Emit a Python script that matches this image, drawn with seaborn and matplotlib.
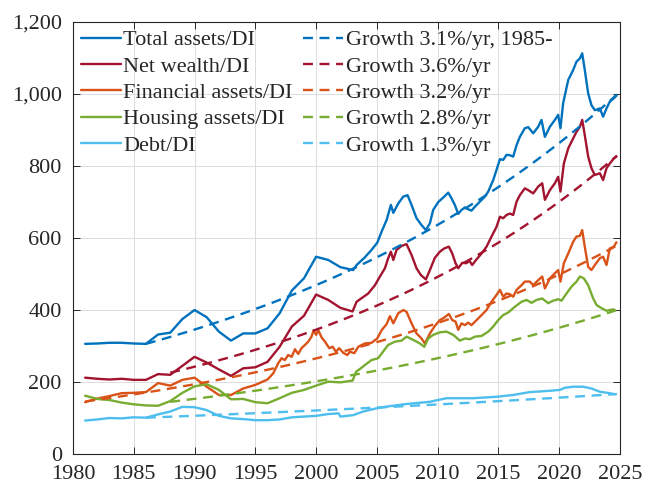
import numpy as np
import pandas as pd
import seaborn as sns
import matplotlib.pyplot as plt
from matplotlib.ticker import FuncFormatter

# Ratios to disposable income (%)
ta_years = [1981, 1982, 1983, 1984, 1985, 1986, 1987, 1988, 1989, 1990, 1991, 1992, 1993, 1994, 1995,
            1996, 1997, 1998, 1999, 2000, 2001, 2002, 2003.05, 2003.33, 2004.0, 2004.56, 2005.03, 2005.39,
            2005.8, 2006.15, 2006.35, 2006.76, 2007.17, 2007.52, 2007.85, 2008.26, 2008.67, 2009.03,
            2009.36, 2009.63, 2010.05, 2010.54, 2010.87, 2011.14, 2011.41, 2011.69, 2011.96, 2012.24,
            2012.51, 2012.78, 2013.06, 2013.47, 2013.88, 2014.16, 2014.57, 2014.84, 2015.12, 2015.39,
            2015.66, 2015.94, 2016.21, 2016.49, 2016.76, 2017.17, 2017.45, 2017.86, 2018.27, 2018.54,
            2018.82, 2019.23, 2019.64, 2019.91, 2020.1, 2020.32, 2020.74, 2021.15, 2021.42, 2021.7,
            2021.89, 2022.1, 2022.38, 2022.65, 2022.93, 2023.34, 2023.61, 2023.89, 2024.16, 2024.49, 2024.7]
total_assets = [306, 307, 309, 309, 307, 306, 332, 337, 375, 400, 380, 340, 315, 335, 335,
                349, 391, 454, 488, 548, 539, 519, 511, 525, 546, 567, 587, 618,
                650, 692, 670, 696, 715, 719, 692, 655, 636, 622,
                641, 678, 700, 715, 726, 710, 692, 667, 678, 685,
                680, 676, 687, 701, 715, 729, 761, 789, 819, 817,
                831, 830, 826, 858, 881, 905, 908, 891, 909, 928,
                881, 909, 928, 942, 905, 974, 1039, 1067, 1090, 1099,
                1113, 1067, 1002, 969, 955, 960, 937, 960, 979, 988, 995]

nw_years = [1981, 1982, 1983, 1984, 1985, 1986, 1987, 1988, 1989, 1990, 1991, 1992, 1993, 1994, 1995,
            1996, 1997, 1998, 1999, 2000, 2001, 2002, 2003.0, 2003.33, 2003.7, 2004.29, 2004.84, 2005.25,
            2005.66, 2005.93, 2006.15, 2006.35, 2006.62, 2007.03, 2007.44, 2007.85, 2008.26, 2008.62,
            2009.03, 2009.36, 2009.77, 2010.18, 2010.54, 2010.92, 2011.2, 2011.47, 2011.69, 2012.02,
            2012.37, 2012.6, 2012.84, 2013.2, 2013.61, 2014.02, 2014.43, 2014.84, 2015.12, 2015.39,
            2015.66, 2015.94, 2016.21, 2016.49, 2016.76, 2017.17, 2017.45, 2017.86, 2018.27, 2018.6,
            2018.82, 2019.23, 2019.64, 2019.91, 2020.1, 2020.38, 2020.74, 2021.15, 2021.42, 2021.7,
            2021.89, 2022.1, 2022.38, 2022.65, 2022.93, 2023.34, 2023.61, 2023.89, 2024.16, 2024.49, 2024.7]
net_wealth = [212, 209, 207, 209, 206, 206, 222, 220, 245, 270, 254, 235, 217, 238, 241,
              256, 298, 354, 384, 443, 428, 406, 396, 423, 432, 446, 469, 493,
              516, 544, 562, 539, 567, 578, 583, 553, 516, 497,
              485, 511, 545, 562, 571, 576, 557, 530, 516, 531,
              530, 537, 525, 541, 557, 576, 604, 631, 659, 655,
              664, 668, 664, 701, 719, 738, 733, 724, 743, 752,
              706, 733, 752, 770, 729, 807, 849, 877, 895, 909,
              928, 886, 826, 794, 775, 780, 761, 794, 807, 821, 826]

fa_years = [1981, 1982, 1983, 1984, 1985, 1986, 1987, 1988, 1989, 1990, 1991, 1992, 1993, 1994, 1995,
            1996, 1996.47, 1996.88, 1997.16, 1997.43, 1997.7, 1997.99, 1998.26, 1998.53, 1998.8,
            1999.08, 1999.35, 1999.62, 1999.8, 2000.0, 2000.18, 2000.45, 2000.73, 2001.08, 2001.36,
            2001.63, 2001.9, 2002.24, 2002.56, 2002.78, 2003.14, 2003.47, 2004.0, 2004.56, 2005.03,
            2005.39, 2005.8, 2006.07, 2006.35, 2006.76, 2007.17, 2007.44, 2007.85, 2008.26, 2008.67,
            2008.95, 2009.36, 2009.77, 2010.18, 2010.54, 2010.92, 2011.2, 2011.47, 2011.69, 2011.96,
            2012.24, 2012.51, 2012.78, 2013.2, 2013.61, 2014.02, 2014.43, 2014.84, 2015.12, 2015.39,
            2015.66, 2015.94, 2016.21, 2016.49, 2016.9, 2017.17, 2017.58, 2017.86, 2018.27, 2018.6,
            2018.82, 2019.23, 2019.64, 2019.91, 2020.1, 2020.38, 2020.74, 2021.15, 2021.42, 2021.7,
            2021.89, 2022.1, 2022.38, 2022.65, 2022.93, 2023.34, 2023.61, 2023.89, 2024.16, 2024.49, 2024.7]
financial = [144, 154, 161, 169, 170, 172, 197, 190, 206, 212, 187, 164, 164, 182, 192,
             207, 224, 252, 266, 261, 275, 270, 291, 278, 294,
             303, 312, 326, 344, 331, 344, 324, 312, 294, 298,
             284, 294, 281, 275, 284, 280, 298, 307, 309, 321,
             344, 361, 383, 363, 391, 400, 395, 363, 335, 321,
             307, 335, 356, 372, 379, 389, 372, 368, 345, 363,
             358, 365, 358, 372, 386, 400, 423, 442, 456, 437,
             446, 444, 437, 456, 469, 479, 479, 469, 483, 493,
             460, 488, 502, 511, 479, 530, 557, 590, 604, 606,
             622, 576, 520, 511, 525, 544, 548, 525, 571, 576, 588]

ha_years = [1981, 1982, 1983, 1984, 1985, 1986, 1987, 1988, 1989, 1990, 1991, 1992, 1993, 1994, 1995,
            1996, 1997, 1998, 1999, 2000, 2001, 2002, 2003.0, 2003.3, 2003.6, 2004.0, 2004.56, 2005.1,
            2005.5, 2005.93, 2006.48, 2007.03, 2007.44, 2007.99, 2008.54, 2008.9, 2009.22, 2009.63,
            2010.18, 2010.73, 2011.28, 2011.83, 2012.24, 2012.65, 2013.06, 2013.61, 2014.16, 2014.57,
            2014.98, 2015.39, 2015.8, 2016.35, 2016.9, 2017.31, 2017.72, 2018.13, 2018.6, 2019.09,
            2019.5, 2019.91, 2020.19, 2020.6, 2021.01, 2021.42, 2021.7, 2022.02, 2022.38, 2022.79,
            2023.07, 2023.48, 2023.89, 2024.16, 2024.49]
housing = [162, 153, 150, 143, 138, 135, 134, 147, 170, 188, 194, 178, 152, 153, 144,
           141, 155, 170, 178, 190, 201, 199, 204, 229, 236, 247, 261, 266,
           284, 303, 312, 315, 326, 317, 307, 298, 321, 331,
           338, 340, 331, 315, 321, 319, 326, 328, 340, 354,
           372, 386, 393, 409, 423, 428, 420, 428, 432, 419,
           426, 430, 426, 446, 465, 479, 493, 488, 469, 432,
           414, 405, 398, 400, 402]

debt_years = [1981, 1982, 1983, 1984, 1985, 1986, 1987, 1988, 1989, 1990, 1991, 1992, 1993, 1994, 1995,
              1996, 1997, 1998, 1999, 2000, 2001, 2001.85, 2002.0, 2003.05, 2003.87, 2004.97, 2006.06,
              2007.43, 2009.35, 2010.72, 2012.92, 2014.84, 2016.2, 2017.58, 2018.95, 2020.04, 2020.46,
              2021.15, 2021.97, 2022.65, 2023.34, 2024.16, 2024.57]
debt = [93, 96, 100, 99, 102, 101, 110, 118, 131, 130, 122, 106, 99, 97, 94,
        94, 96, 102, 104, 106, 111, 113, 104, 108, 118, 127, 133,
        139, 145, 155, 155, 159, 164, 172, 175, 178, 184,
        187, 187, 182, 173, 169, 166]

# Growth lines: start year, start level, annual growth rate
trend_start = [1986, 1988, 1981, 1988, 1986]
trend_level = [306, 226, 146, 145, 101]
trend_rate = [0.031, 0.036, 0.032, 0.028, 0.013]
trend_end = 2024.75

names = ["Total assets/DI", "Net wealth/DI", "Financial assets/DI", "Housing assets/DI", "Debt/DI"]
trend_names = ["Growth 3.1%/yr, 1985-", "Growth 3.6%/yr", "Growth 3.2%/yr",
               "Growth 2.8%/yr", "Growth 1.3%/yr"]
colors = ["#0072BD", "#A2142F", "#D95319", "#77AC30", "#4DBEEE"]

series = [(ta_years, total_assets), (nw_years, net_wealth), (fa_years, financial),
          (ha_years, housing), (debt_years, debt)]

sns.set_theme(style="ticks")
plt.rcParams["font.family"] = ["Liberation Serif", "DejaVu Serif"]

fig = plt.figure(figsize=(6.47, 4.86), dpi=100)
ax = fig.add_axes([0.1128, 0.0658, 0.8455, 0.8889])

for name, (yrs, vals), c in zip(names, series, colors):
    df = pd.DataFrame({"year": yrs, "ratio": vals})
    sns.lineplot(data=df, x="year", y="ratio", color=c, lw=1.7, label=name, ax=ax)

for name, s, lv, r, c in zip(trend_names, trend_start, trend_level, trend_rate, colors):
    t = np.linspace(s, trend_end, 120)
    df = pd.DataFrame({"year": t, "ratio": lv * (1 + r) ** (t - s)})
    sns.lineplot(data=df, x="year", y="ratio", color=c, lw=1.7, label=name, ax=ax,
                 linestyle=(0, (4.2, 2.8)))

ax.set_xlim(1980, 2025)
ax.set_ylim(0, 1200)
ax.set_xticks(range(1980, 2026, 5))
ax.set_yticks(range(0, 1201, 200))
ax.yaxis.set_major_formatter(FuncFormatter(lambda v, p: f"{v:,.0f}"))
ax.set_xlabel("")
ax.set_ylabel("")
ax.grid(True, color="#dcdcdc", lw=0.7)
ax.tick_params(direction="in", top=True, right=True, length=5, width=0.7,
               labelsize=16, colors="#262626")
ax.tick_params(axis="x", pad=8)
ax.tick_params(axis="y", pad=8)
for sp in ax.spines.values():
    sp.set_visible(True)
    sp.set_color("#262626")
    sp.set_linewidth(0.8)

ax.legend(loc="upper left", ncol=2, frameon=False, fontsize=16, handlelength=1.8,
          handletextpad=0.1, columnspacing=0.5, labelspacing=0.26,
          borderaxespad=0.15, borderpad=0.2)

plt.savefig("out.png", dpi=100)
plt.close()
